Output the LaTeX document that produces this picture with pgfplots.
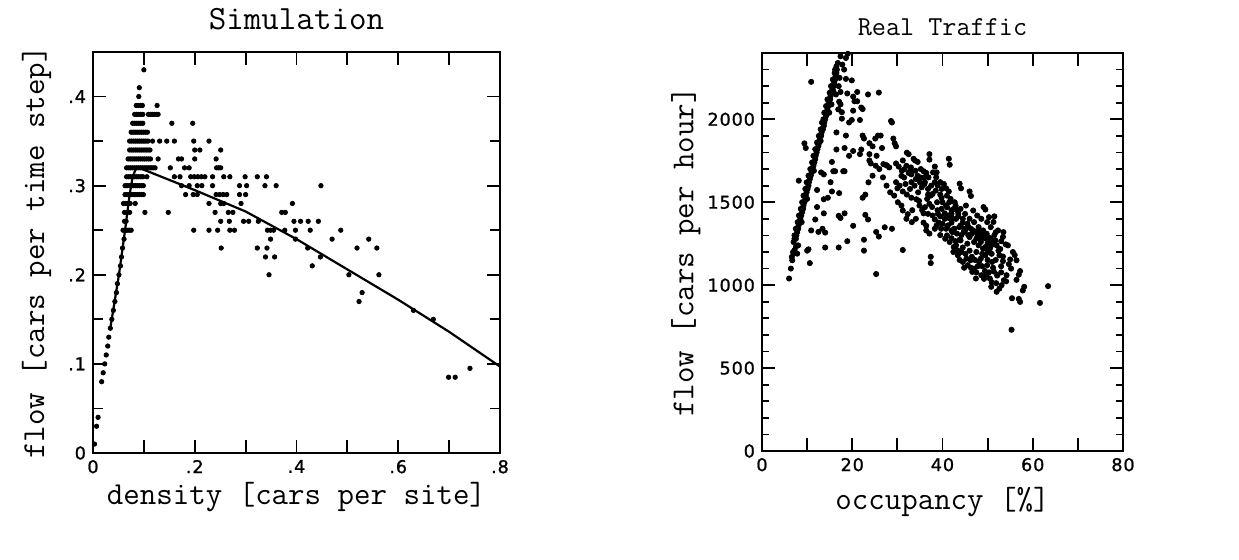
\documentclass[border=0pt]{standalone}
\usepackage{fontspec}
\usepackage{pgfplots}
\pgfplotsset{compat=1.18}
\newfontfamily\tickfont[LetterSpace=5,FakeBold=1.2]{DejaVu Sans}
\newcommand{\lab}{\ttfamily\fontsize{16}{18}\selectfont}

\begin{document}
\begin{tikzpicture}
\useasboundingbox (0pt,0pt) rectangle (619.5pt,280pt);
\pgfplotsset{
  every axis title shift=0pt,
  myaxis/.style={
    scale only axis, anchor=south west, axis line style={line width=1pt},
    tick align=inside, tick style={black, line width=0.9pt},
    major tick length=6pt, minor tick length=4pt,
    tick label style={font=\tickfont\fontsize{8.8}{11}\selectfont},
    /pgf/number format/assume math mode=true,
    xlabel style={font=\lab, anchor=base},
    ylabel style={font=\lab, anchor=base},
  }
}
% ---------------- Simulation ----------------
\begin{axis}[myaxis,
  at={(46.5pt,53.5pt)}, width=203.5pt, height=200.5pt,
  xmin=0, xmax=0.8, ymin=0, ymax=0.45,
  xtick={0,0.1,0.2,0.3,0.4,0.5,0.6,0.7,0.8},
  xticklabels={0,,.2,,.4,,.6,,.8},
  ytick={0,0.1,0.2,0.3,0.4}, yticklabels={0,.1,.2,.3,.4},
  minor ytick={0.05,0.15,0.25,0.35},
  minor tick length=5pt, major tick length=6.5pt,
  title={Simulation},
  title style={font=\ttfamily\fontsize{17}{20}\selectfont, at={(axis description cs:0.5,1.057)}, anchor=base},
  xlabel={density [cars per site]},
  xlabel style={at={(axis description cs:0.5,-0.128)}},
  ylabel={flow [cars per time step]},
  ylabel style={at={(axis description cs:-0.12,0.5)}},
]
\addplot[black, line width=1.1pt, mark=none] coordinates {
(0.034,0.14) (0.051,0.20) (0.063,0.25) (0.072,0.29) (0.078,0.31) (0.085,0.32)
(0.095,0.319) (0.2,0.295) (0.3,0.271) (0.4,0.240) (0.5,0.206) (0.6,0.172) (0.7,0.136) (0.8,0.097)};
\addplot[only marks, mark=*, mark size=1.1pt, black] coordinates {
(0.003,0.01)(0.007,0.03)(0.010,0.04)(0.017,0.08)(0.020,0.09)(0.023,0.10)(0.026,0.11)(0.029,0.12)(0.031,0.13)
(0.034,0.14)(0.037,0.15)(0.040,0.16)(0.043,0.17)(0.046,0.18)(0.048,0.19)(0.051,0.20)(0.054,0.21)(0.056,0.22)
(0.058,0.23)(0.061,0.24)(0.063,0.25)(0.065,0.26)(0.067,0.27)(0.069,0.28)
(0.059,0.25)(0.067,0.25)(0.071,0.25)(0.075,0.25)(0.062,0.27)(0.072,0.27)(0.062,0.26)(0.060,0.28)(0.065,0.28)(0.073,0.28)(0.083,0.28)
% row 0.29
(0.063,0.29)(0.067,0.29)(0.071,0.29)(0.075,0.29)(0.079,0.29)(0.083,0.29)(0.087,0.29)(0.091,0.29)(0.095,0.29)(0.099,0.29)
(0.182,0.29)(0.197,0.29)(0.205,0.29)(0.242,0.29)(0.249,0.29)(0.256,0.29)(0.263,0.29)(0.288,0.29)(0.300,0.29)
% row 0.30
(0.063,0.30)(0.067,0.30)(0.071,0.30)(0.075,0.30)(0.079,0.30)(0.083,0.30)(0.087,0.30)(0.091,0.30)(0.095,0.30)(0.099,0.30)
(0.174,0.30)(0.189,0.30)(0.205,0.30)(0.214,0.30)(0.235,0.30)(0.288,0.30)(0.302,0.30)(0.338,0.30)(0.360,0.30)(0.448,0.30)
% row 0.31
(0.066,0.31)(0.070,0.31)(0.074,0.31)(0.078,0.31)(0.082,0.31)(0.086,0.31)(0.090,0.31)(0.094,0.31)(0.098,0.31)
(0.106,0.31)(0.160,0.31)(0.171,0.31)(0.192,0.31)(0.199,0.31)(0.206,0.31)(0.213,0.31)(0.220,0.31)(0.235,0.31)
(0.257,0.31)(0.269,0.31)(0.299,0.31)(0.323,0.31)(0.341,0.31)
% row 0.32
(0.066,0.32)(0.070,0.32)(0.074,0.32)(0.078,0.32)(0.082,0.32)(0.086,0.32)(0.090,0.32)(0.094,0.32)(0.098,0.32)
(0.102,0.32)(0.106,0.32)(0.110,0.32)(0.114,0.32)(0.118,0.32)(0.122,0.32)
(0.152,0.32)(0.180,0.32)(0.189,0.32)(0.243,0.32)(0.247,0.32)(0.251,0.32)
% row 0.33
(0.069,0.33)(0.073,0.33)(0.077,0.33)(0.081,0.33)(0.085,0.33)(0.089,0.33)(0.093,0.33)(0.097,0.33)(0.101,0.33)
(0.105,0.33)(0.109,0.33)(0.113,0.33)(0.128,0.33)(0.168,0.33)(0.174,0.33)(0.200,0.33)(0.242,0.33)
% row 0.34
(0.072,0.34)(0.076,0.34)(0.080,0.34)(0.084,0.34)(0.088,0.34)(0.092,0.34)(0.096,0.34)(0.100,0.34)(0.104,0.34)
(0.108,0.34)(0.112,0.34)(0.200,0.34)(0.210,0.34)(0.251,0.34)
% row 0.35
(0.072,0.35)(0.076,0.35)(0.080,0.35)(0.084,0.35)(0.088,0.35)(0.092,0.35)(0.096,0.35)(0.100,0.35)(0.104,0.35)(0.108,0.35)
(0.117,0.35)(0.131,0.35)(0.145,0.35)(0.160,0.35)(0.198,0.35)(0.228,0.35)
% row 0.36
(0.075,0.36)(0.079,0.36)(0.083,0.36)(0.087,0.36)(0.091,0.36)(0.095,0.36)(0.099,0.36)(0.103,0.36)(0.107,0.36)
% row 0.37
(0.078,0.37)(0.082,0.37)(0.086,0.37)(0.090,0.37)(0.094,0.37)(0.098,0.37)(0.155,0.37)(0.196,0.37)
% row 0.38
(0.082,0.38)(0.086,0.38)(0.090,0.38)(0.094,0.38)(0.098,0.38)(0.109,0.38)(0.113,0.38)(0.117,0.38)(0.121,0.38)(0.125,0.38)(0.128,0.38)
% row 0.39 and above
(0.085,0.39)(0.089,0.39)(0.093,0.39)(0.097,0.39)(0.126,0.39)
(0.090,0.40)(0.091,0.41)(0.100,0.43)
% lower rows
(0.102,0.27)(0.148,0.27)(0.240,0.27)(0.266,0.27)(0.275,0.27)(0.371,0.27)(0.378,0.27)
(0.228,0.28)(0.251,0.28)(0.257,0.28)(0.291,0.28)(0.392,0.28)
(0.251,0.26)(0.268,0.26)(0.296,0.26)(0.306,0.26)(0.325,0.26)(0.395,0.26)(0.408,0.26)(0.423,0.26)(0.443,0.26)
(0.198,0.25)(0.228,0.25)(0.245,0.25)(0.269,0.25)(0.278,0.25)(0.343,0.25)(0.349,0.25)(0.355,0.25)(0.377,0.25)
(0.398,0.25)(0.427,0.25)(0.487,0.25)
(0.349,0.24)(0.398,0.24)(0.470,0.24)(0.542,0.24)
(0.252,0.23)(0.323,0.23)(0.342,0.23)(0.422,0.23)(0.519,0.23)(0.558,0.23)
(0.339,0.22)(0.357,0.22)(0.447,0.22)
(0.431,0.21)(0.346,0.20)(0.503,0.20)(0.562,0.20)
(0.529,0.18)(0.523,0.17)(0.630,0.16)(0.669,0.15)(0.699,0.085)(0.712,0.085)(0.741,0.095)
};
\end{axis}
% ---------------- Real Traffic ----------------
\begin{axis}[myaxis,
  at={(381pt,54.5pt)}, width=180.5pt, height=199pt,
  xmin=0, xmax=80, ymin=0, ymax=2400,
  xtick={0,10,20,30,40,50,60,70,80},
  xticklabels={0,,20,,40,,60,,80},
  ytick={0,500,1000,1500,2000}, yticklabels={0,500,1000,1500,2000},
  minor ytick={100,200,300,400,600,700,800,900,1100,1200,1300,1400,1600,1700,1800,1900,2100,2200,2300},
  major tick length=6.5pt, minor tick length=3.5pt,
  title={Real Traffic},
  title style={font=\ttfamily\fontsize{13.7}{16}\selectfont, at={(axis description cs:0.5,1.045)}, anchor=base},
  xlabel={occupancy [\%]},
  xlabel style={at={(axis description cs:0.5,-0.148)}},
  ylabel={flow [cars per hour]},
  ylabel style={at={(axis description cs:-0.19,0.5)}},
]
\addplot[only marks, mark=*, mark size=1.3pt, black] coordinates {
% free-flow branch
(7.0,1260)(7.2,1280)(7.5,1280)(7.6,1300)(7.2,1300)(7.8,1320)(7.5,1340)(8.0,1340)(8.1,1360)(7.9,1380)(8.3,1380)
(8.5,1400)(8.2,1420)(8.7,1420)(8.9,1440)(8.6,1460)(9.1,1460)(9.2,1480)(8.9,1500)(9.4,1500)(9.6,1520)(9.2,1540)
(9.7,1540)(9.9,1560)(9.6,1580)(10.1,1580)(10.3,1600)(9.9,1620)(10.4,1620)(10.6,1640)(10.3,1660)(10.8,1660)
(11.0,1680)(10.7,1700)(11.2,1700)(11.4,1720)(11.1,1740)(11.6,1740)(11.8,1760)(11.4,1780)(11.9,1780)(12.1,1800)
(11.8,1820)(12.3,1820)(12.5,1840)(12.2,1860)(12.7,1860)(12.8,1880)(12.6,1900)(13.1,1900)(13.2,1920)(13.0,1940)
(13.5,1940)(13.7,1960)(13.3,1980)(13.8,1980)(14.0,2000)(13.6,2000)(14.2,2020)(13.8,2040)(14.3,2040)(14.5,2060)
(14.2,2080)(14.7,2080)(14.8,2100)(14.5,2120)(15.1,2120)(15.2,2140)(15.0,2160)(15.5,2160)(15.6,2180)(15.3,2200)
(15.9,2200)(16.0,2220)(15.7,2240)(16.2,2240)(16.3,2260)(16.1,2280)(16.5,2280)(16.6,2300)(16.2,2300)(16.5,2320)
(16.8,2340)(16.0,2210)(15.8,2170)(16.4,2150)(15.4,2090)(14.9,2040)(13.0,1870)(11.5,1690)(10.0,1520)(8.8,1380)
(17.4,2380)(18.6,2370)(19.0,2395)(17.8,2330)(18.2,2300)(17.2,2250)(17.0,2200)(18.6,2244)(19.9,2235)
(17.1,2106)(17.4,2090)(16.9,2060)(17.7,2004)
(6.0,1040)(6.4,1100)(6.7,1150)(7.0,1190)(7.2,1210)(7.5,1230)(6.9,1200)(8.0,1240)(7.8,1190)(6.6,1170)
% upper triangle and congested branch
(10.9,2226)(17.4,2165)(18.9,2156)(20.2,2137)(21.1,2165)(20.5,2109)(21.1,2109)(22.0,2071)(22.3,2062)(23.5,2150)
(25.9,2161)(17.7,2043)(20.2,2052)(19.9,1996)(19.3,1981)(21.7,1996)(28.8,1981)(28.6,1990)(16.5,1921)(18.6,1902)
(22.3,1902)(22.6,1884)(23.8,1856)(24.5,1837)(25.1,1884)(25.7,1902)(26.3,1902)(22.0,1818)(21.7,1790)(20.2,1809)
(19.3,1780)(16.5,1818)(18.3,1827)(23.8,1790)(25.4,1780)(29.1,1884)(29.4,1856)(29.7,1837)(26.6,1827)(15.5,1743)
(15.8,1687)(18.3,1687)(23.8,1752)(24.1,1734)(27.5,1724)(29.7,1734)(30.3,1715)(32.1,1799)(32.5,1790)(33.6,1762)
(33.9,1752)(34.5,1743)(31.2,1752)(37.1,1790)(41.4,1762)(38.3,1715)(35.8,1687)(36.4,1677)(35.8,1649)(36.1,1621)
(32.5,1677)(33.1,1668)(30.9,1659)(31.5,1649)(29.7,1621)(33.1,1621)(34.5,1659)(35.1,1649)(30.0,1584)(31.2,1565)
(32.1,1546)(33.1,1527)(34.2,1518)(34.8,1508)(36.8,1546)(38.3,1621)(38.9,1602)(39.5,1621)(40.8,1584)(41.4,1565)
(37.1,1490)(37.7,1471)(39.5,1546)(39.8,1527)(35.5,1452)(35.8,1433)(33.3,1452)(30.9,1480)(35.8,1377)(36.4,1358)
(38.3,1396)(39.2,1377)(40.5,1433)(41.4,1405)(42.0,1377)(42.6,1340)(43.2,1311)(44.2,1302)(40.8,1480)(42.0,1452)
(42.9,1480)(43.2,1452)(43.5,1415)(44.5,1377)(44.8,1340)(45.7,1302)(46.3,1340)(47.5,1321)(48.2,1321)(48.8,1302)
(49.4,1283)(50.0,1255)(50.6,1283)(51.5,1302)(51.5,1415)(49.1,1471)(46.0,1565)(43.8,1612)(38.9,1452)(39.5,1415)
(36.4,1330)(37.1,1311)(38.3,1340)(39.5,1302)(40.8,1340)(42.0,1283)(42.9,1265)(43.8,1274)(44.5,1227)(45.1,1189)
(46.0,1208)(46.5,1171)(47.2,1152)(47.8,1114)(48.8,1189)(50.0,1152)(50.9,1189)(51.8,1152)(52.4,1208)(53.0,1265)
(53.0,1114)(53.0,1077)(52.1,1058)(51.2,1105)(50.3,1077)(48.8,1114)(49.4,1086)(46.3,1105)(47.5,1077)(44.8,1105)
(43.8,1152)(37.4,1133)(37.4,1171)(27.7,1721)(28.2,1710)(26.9,1730)
% dense cluster fill
(40.0,1500)(41.0,1470)(42.0,1430)(43.0,1400)(44.0,1360)(45.0,1330)(46.0,1290)(47.0,1260)(48.0,1240)(49.0,1220)
(50.0,1200)(41.5,1500)(42.5,1460)(43.5,1430)(44.5,1400)(45.5,1370)(46.5,1310)(47.5,1280)(48.5,1260)(49.5,1230)
(40.5,1400)(41.2,1360)(42.2,1320)(39.8,1460)(38.8,1500)(37.8,1550)(36.8,1580)(36.0,1610)(35.0,1620)(34.0,1690)
(33.0,1710)(32.0,1720)(31.0,1690)(37.5,1600)(38.5,1570)(45.0,1430)(46.0,1400)(47.0,1380)(48.0,1350)(49.0,1330)
(50.0,1290)(51.0,1260)(52.0,1240)(50.5,1220)(49.5,1180)(48.5,1160)(47.5,1200)(45.5,1250)(44.0,1270)(43.0,1240)
(42.0,1330)(41.0,1300)
(30.5,1600)(31.8,1610)(32.8,1580)(33.8,1600)(34.6,1560)(35.4,1590)(36.6,1520)(37.4,1540)(31.6,1700)(32.9,1690)
(34.1,1640)(35.2,1700)(36.9,1650)(37.9,1680)(38.6,1650)(39.8,1580)(40.3,1610)(41.0,1540)(41.8,1520)(42.7,1500)
(39.0,1430)(40.0,1370)(41.3,1420)(42.3,1400)(43.7,1350)(44.7,1320)(45.8,1350)(46.8,1330)(47.8,1300)(48.5,1280)
(49.8,1310)(50.8,1240)(51.7,1270)(52.6,1180)(51.0,1140)(49.9,1120)(48.1,1140)(47.0,1100)(46.2,1150)(45.3,1160)
(44.2,1200)(43.3,1210)(42.5,1230)(41.6,1260)(40.6,1280)(39.7,1340)(38.7,1360)(37.8,1420)(36.8,1430)(36.1,1470)
(34.9,1480)(34.1,1400)(33.2,1380)(32.0,1400)(31.2,1450)(30.1,1500)(29.3,1540)(28.4,1560)(27.6,1600)(26.8,1650)
(26.0,1700)(25.2,1720)(24.5,1660)(23.6,1620)(44.0,1460)(45.2,1480)(46.8,1450)(47.7,1420)(48.6,1400)(49.9,1380)
(50.7,1350)(52.3,1330)(53.5,1320)(54.5,1240)(55.6,1200)(56.4,1150)(55.2,1100)(54.2,1060)(53.1,1000)(52.0,960)
(50.8,990)(48.6,1060)(47.4,1040)(46.6,1080)(45.6,1120)(44.5,1140)(43.4,1180)(42.4,1200)
% lower tail
(63.4,994)(61.6,893)(55.3,731)(57.2,899)(56.9,917)(55.4,921)(58.1,990)(57.8,968)(56.0,1182)(55.0,1155)
(54.7,1127)(57.2,1085)(56.9,1063)(56.4,1032)(53.6,1030)(54.1,1023)(52.6,979)(51.9,1012)(50.9,1018)(50.5,1040)
(49.2,1038)(49.7,1063)(51.4,1082)(52.2,1063)(53.4,1145)(53.4,1173)(52.8,1218)(54.0,1246)(53.4,1291)(51.8,1319)
(51.3,1381)(50.3,1410)(49.5,1456)(46.3,1538)(44.1,1584)(41.6,1726)(38.7,1680)(37.1,1757)(32.3,1428)
% lower triangle
(12.2,1471)(13.7,1518)(14.6,1527)(11.8,1396)(12.5,1321)(13.4,1340)(14.0,1317)(14.0,1227)(10.6,1133)(10.9,1330)
(13.7,1433)(12.2,1574)(17.0,1418)(17.4,1405)(18.3,1433)(17.0,1227)(18.9,1265)(20.2,1358)(22.9,1546)(22.3,1527)
(22.9,1424)(23.5,1396)(22.6,1274)(22.6,1208)(25.3,1321)(25.9,1293)(27.2,1349)(28.8,1340)(31.2,1212)(25.3,1067)
(13.7,1668)(15.2,1621)(17.1,1555)(15.5,1565)(18.0,1687)(16.2,1687)(9.4,1855)(9.7,1827)(8.15,1630)(10.0,1208)
(10.3,1216)(13.1,1680)
};
\end{axis}
\end{tikzpicture}
\end{document}
